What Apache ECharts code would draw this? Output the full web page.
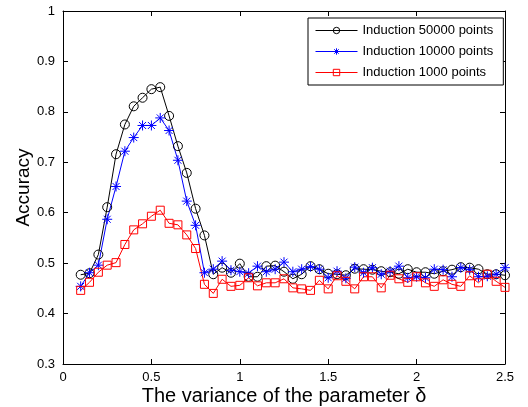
<!DOCTYPE html>
<html>
<head>
<meta charset="utf-8">
<script src="https://cdn.jsdelivr.net/npm/echarts@6/dist/echarts.min.js"></script>
<style>
html,body{margin:0;padding:0;background:#fff;}
#c{width:528px;height:407px;}
</style>
</head>
<body>
<div id="c"></div>
<script>
var xValues = [0.1,0.15,0.2,0.25,0.3,0.35,0.4,0.45,0.5,0.55,0.6,0.65,0.7,0.75,0.8,0.85,0.9,0.95,1.0,1.05,1.1,1.15,1.2,1.25,1.3,1.35,1.4,1.45,1.5,1.55,1.6,1.65,1.7,1.75,1.8,1.85,1.9,1.95,2.0,2.05,2.1,2.15,2.2,2.25,2.3,2.35,2.4,2.45,2.5];
var induction50000 = [0.477,0.480,0.517,0.611,0.716,0.775,0.811,0.828,0.845,0.849,0.792,0.732,0.679,0.608,0.555,0.478,0.491,0.481,0.499,0.473,0.473,0.494,0.495,0.483,0.469,0.478,0.494,0.488,0.479,0.478,0.476,0.489,0.488,0.487,0.484,0.482,0.479,0.488,0.482,0.482,0.479,0.484,0.487,0.492,0.491,0.488,0.478,0.478,0.476];
var induction10000 = [0.454,0.481,0.496,0.587,0.652,0.722,0.749,0.773,0.773,0.788,0.763,0.704,0.623,0.575,0.481,0.488,0.504,0.486,0.483,0.480,0.494,0.483,0.488,0.502,0.483,0.488,0.493,0.488,0.471,0.484,0.470,0.492,0.481,0.491,0.478,0.484,0.494,0.471,0.473,0.471,0.488,0.487,0.473,0.491,0.487,0.473,0.474,0.478,0.491];
var induction1000 = [0.446,0.462,0.482,0.496,0.501,0.537,0.566,0.578,0.593,0.605,0.579,0.576,0.556,0.529,0.458,0.440,0.468,0.454,0.456,0.471,0.455,0.461,0.461,0.469,0.451,0.449,0.446,0.466,0.449,0.475,0.464,0.449,0.473,0.473,0.451,0.476,0.469,0.462,0.473,0.461,0.454,0.467,0.458,0.454,0.475,0.461,0.478,0.464,0.452];
var xTicks = ['0','0.5','1','1.5','2','2.5'];
var yTicks = ['0.3','0.4','0.5','0.6','0.7','0.8','0.9','1'];
var seriesNames = ['Induction 50000 points','Induction 10000 points','Induction 1000 points'];
var seriesColors = ['#000000','#0000ff','#ff0000'];

function pairs(ys){ return xValues.map(function(x,i){ return [x, ys[i]]; }); }
var FONT = 'Liberation Sans, Arial, sans-serif';
var starPath = 'path://M0,-10L0,10M-10,0L10,0M-7,-7L7,7M-7,7L7,-7';

function mkSeries(name, data, color, symbol, size){
  return {
    name: name, type: 'line', data: pairs(data),
    symbol: symbol, symbolSize: size,
    lineStyle: {color: color, width: 1},
    itemStyle: {color: 'rgba(0,0,0,0)', borderColor: color, borderWidth: 1},
    emphasis: {disabled: true},
    animation: false, z: 3
  };
}
var axisCommonX = {
  type: 'value', min: 0, max: 2.5, interval: 0.5,
  axisLine: {show: true, onZero: false, lineStyle: {color: '#000', width: 1}},
  axisTick: {show: true, inside: true, length: 5, lineStyle: {color: '#000'}},
  splitLine: {show: false}
};
var axisCommonY = {
  type: 'value', min: 0.3, max: 1, interval: 0.1,
  axisLine: {show: true, onZero: false, lineStyle: {color: '#000', width: 1}},
  axisTick: {show: true, inside: true, length: 5, lineStyle: {color: '#000'}},
  splitLine: {show: false}
};
function fmtX(v){ var i = Math.round(v/0.5); return xTicks[i] !== undefined ? xTicks[i] : ''; }
function fmtY(v){ var i = Math.round((v-0.3)/0.1); return yTicks[i] !== undefined ? yTicks[i] : ''; }

var legendData = seriesNames.map(function(n, i){
  return {
    name: n,
    lineStyle: {color: seriesColors[i], width: 1},
    itemStyle: {color: 'rgba(0,0,0,0)', borderColor: seriesColors[i], borderWidth: 1}
  };
});

var chart = echarts.init(document.getElementById('c'), null, {renderer: 'canvas'});
chart.setOption({
  backgroundColor: '#fff',
  textStyle: {fontFamily: FONT},
  grid: {left: 63, right: 23, top: 11, bottom: 43, containLabel: false, outerBoundsMode: 'none'},
  xAxis: [
    Object.assign({}, axisCommonX, {
      position: 'bottom',
      name: 'The variance of the parameter \u03b4', nameLocation: 'middle', nameGap: 22,
      nameMoveOverlap: false,
      nameTextStyle: {fontSize: 20, color: '#000', fontFamily: FONT},
      axisLabel: {show: true, formatter: fmtX, fontSize: 13, color: '#000', margin: 7, fontFamily: FONT}
    }),
    Object.assign({}, axisCommonX, {position: 'top', axisLabel: {show: false}})
  ],
  yAxis: [
    Object.assign({}, axisCommonY, {
      position: 'left',
      name: 'Accuracy', nameLocation: 'middle', nameGap: 30,
      nameMoveOverlap: false,
      nameTextStyle: {fontSize: 19, color: '#000', fontFamily: FONT},
      axisLabel: {show: true, formatter: fmtY, fontSize: 13, color: '#000', margin: 8, fontFamily: FONT}
    }),
    Object.assign({}, axisCommonY, {position: 'right', axisLabel: {show: false}})
  ],
  legend: {
    orient: 'vertical', left: 308, top: 18,
    backgroundColor: '#fff', borderColor: '#000', borderWidth: 1,
    padding: [6, 10, 6, 7], itemGap: 8, itemWidth: 42, itemHeight: 8,
    textStyle: {fontSize: 13, color: '#000', fontFamily: FONT},
    data: legendData
  },
  series: [
    mkSeries(seriesNames[0], induction50000, seriesColors[0], 'circle', 9),
    mkSeries(seriesNames[1], induction10000, seriesColors[1], starPath, 10),
    mkSeries(seriesNames[2], induction1000, seriesColors[2], 'rect', 8)
  ]
});
</script>
</body>
</html>
